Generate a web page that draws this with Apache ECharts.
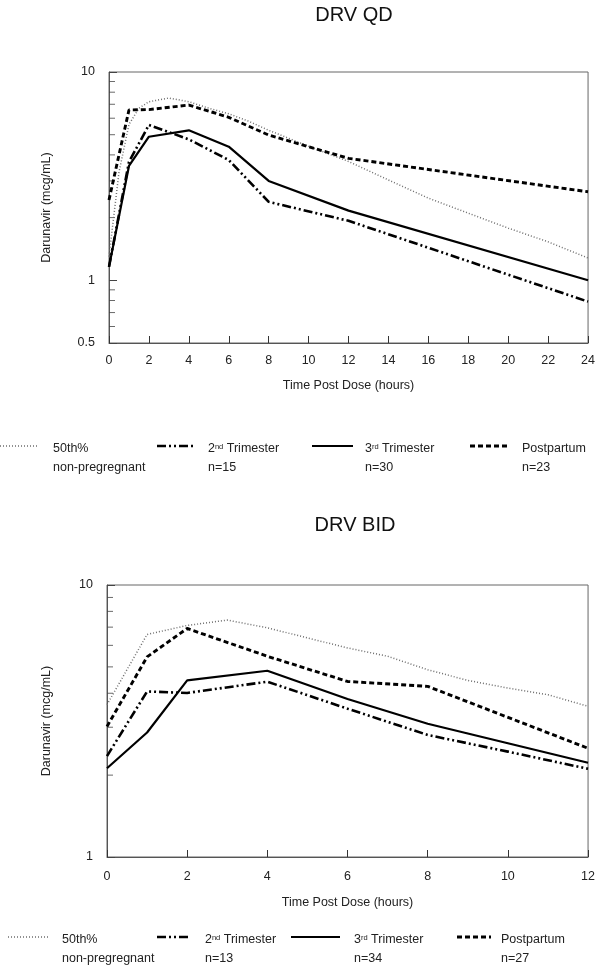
<!DOCTYPE html>
<html><head><meta charset="utf-8">
<script src="https://cdn.jsdelivr.net/npm/echarts@6/dist/echarts.min.js"></script>
<style>html,body{margin:0;padding:0;background:#fff}#c{width:598px;height:967px}</style>
</head><body><div id="c"></div>
<script>
// ---------- DATA ----------
// DRV QD (once daily), x = hours post dose, y = mcg/mL
const qdHoursNP = [0, 0.5, 1, 1.5, 2, 3, 4, 5, 6, 7, 8, 10, 12, 14, 16, 18, 20, 22, 24];
const qdNonPreg = [1.3, 3.3, 5.6, 6.7, 7.2, 7.5, 7.2, 6.7, 6.3, 5.8, 5.25, 4.4, 3.72, 3.03, 2.48, 2.1, 1.78, 1.53, 1.28];
const qdHours = [0, 1, 2, 4, 6, 8, 12, 24];
const qdTri2 = [1.16, 3.7, 5.57, 4.75, 3.78, 2.38, 1.93, 0.79];
const qdTri3 = [1.16, 3.54, 4.89, 5.25, 4.38, 3.0, 2.16, 1.0];
const qdPost = [2.43, 6.57, 6.6, 6.94, 6.06, 4.98, 3.85, 2.66];
// DRV BID (twice daily)
const bidHoursNP = [0, 1, 2, 3, 4, 5, 6, 7, 8, 9, 10, 11, 12];
const bidNonPreg = [3.63, 6.58, 7.1, 7.43, 6.96, 6.39, 5.87, 5.47, 4.88, 4.46, 4.18, 3.95, 3.58];
const bidHours = [0, 1, 2, 4, 6, 8, 10, 12];
const bidTri2 = [2.35, 4.06, 4.01, 4.41, 3.51, 2.81, 2.44, 2.11];
const bidTri3 = [2.12, 2.87, 4.46, 4.84, 3.81, 3.09, 2.62, 2.22];
const bidHoursPost = [0, 1, 2, 4, 6, 8, 12];
const bidPost = [3.02, 5.44, 6.92, 5.47, 4.42, 4.24, 2.51];
// axis ticks
const qdMinorTicks = [0.6, 0.7, 0.8, 0.9, 2, 3, 4, 5, 6, 7, 8, 9];
const bidMinorTicks = [2, 3, 4, 5, 6, 7, 8, 9];
const titles = ['DRV QD', 'DRV BID'];
const xName = 'Time Post Dose (hours)';
const yName = 'Darunavir (mcg/mL)';
const qdCounts = ['n=15', 'n=30', 'n=23'];
const bidCounts = ['n=13', 'n=34', 'n=27'];

// ---------- CHART ----------
const FONT = '"Liberation Sans", Arial, sans-serif';
const FS = 12.5;
const chart = echarts.init(document.getElementById('c'));
const zip = (xs, ys) => xs.map((x, i) => [x, ys[i]]);

const STY = {
  np:   {color: '#6e6e6e', width: 1.5, type: [1, 2]},
  t2:   {color: '#000', width: 2.6, type: [9, 3, 2, 3, 2, 3]},
  t3:   {color: '#000', width: 2.2, type: 'solid'},
  pp:   {color: '#000', width: 2.9, type: [5, 3]}
};

function xAx(g, max, labelMargin, nameGap) {
  return {
    type: 'value', gridIndex: g, min: 0, max: max, interval: 2,
    axisLine: {show: true, lineStyle: {color: '#555', width: 1}},
    axisTick: {show: true, inside: true, length: 7, lineStyle: {color: '#333', width: 1}},
    axisLabel: {color: '#222', fontSize: FS, fontFamily: FONT, margin: labelMargin},
    splitLine: {show: false},
    name: xName, nameLocation: 'middle', nameGap: nameGap,
    nameTextStyle: {color: '#222', fontSize: FS, fontFamily: FONT}
  };
}
function yAx(g, min, max, nameGap) {
  return {
    type: 'log', logBase: 10, gridIndex: g, min: min, max: max,
    axisLine: {show: true, lineStyle: {color: '#555', width: 1}},
    axisTick: {show: true, inside: true, length: 8, lineStyle: {color: '#444', width: 1}},
    axisLabel: {color: '#222', fontSize: FS, fontFamily: FONT, margin: 14, showMinLabel: true, showMaxLabel: true},
    splitLine: {show: false}, minorTick: {show: false},
    name: yName, nameLocation: 'middle', nameGap: nameGap, nameRotate: 90,
    nameTextStyle: {color: '#222', fontSize: FS, fontFamily: FONT}
  };
}
function line(name, g, data, sty) {
  return {
    type: 'line', name: name, xAxisIndex: g, yAxisIndex: g, data: data,
    showSymbol: false, symbol: 'none', silent: true, animation: false,
    lineStyle: {color: sty.color, width: sty.width, type: sty.type}
  };
}
function minor(g, ticks) {
  return {
    type: 'scatter', xAxisIndex: g, yAxisIndex: g, silent: true, animation: false,
    data: ticks.map(v => [0, v]), symbol: 'rect', symbolSize: [6, 1], symbolOffset: [3, 0],
    itemStyle: {color: '#444'}, z: 1
  };
}

// legend graphics
function legend(rowY, pos, counts) {
  const els = [];
  const lineY = rowY - 3;
  const keys = ['np', 't2', 't3', 'pp'];
  keys.forEach((k, i) => {
    const s = STY[k];
    els.push({type: 'line', shape: {x1: pos[i][0], y1: lineY, x2: pos[i][1], y2: lineY},
      style: {stroke: s.color, lineWidth: s.width, lineDash: s.type === 'solid' ? null : s.type}});
  });
  const base = {fill: '#222', fontSize: FS, fontFamily: FONT};
  const rich = {b: {fontSize: FS, fontFamily: FONT, fill: '#222', color: '#222'},
                s: {fontSize: 7.5, fontFamily: FONT, fill: '#222', color: '#222', verticalAlign: 'top', padding: [0, 0, 5, 0]}};
  const texts1 = ['{b|50th%}', '{b|2}{s|nd}{b| Trimester}', '{b|3}{s|rd}{b| Trimester}', '{b|Postpartum}'];
  const texts2 = ['non-pregregnant'].concat(counts);
  keys.forEach((k, i) => {
    els.push({type: 'text', x: pos[i][2], y: rowY, style: Object.assign({}, base, {text: texts1[i], rich: rich, verticalAlign: 'middle'})});
    els.push({type: 'text', x: pos[i][2], y: rowY + 19, style: Object.assign({}, base, {text: texts2[i], verticalAlign: 'middle'})});
  });
  return els;
}

const option = {
  animation: false,
  backgroundColor: '#fff',
  title: [
    {text: titles[0], left: 349, top: 0, textAlign: 'center', textStyle: {fontSize: 20, fontWeight: 'normal', color: '#111', fontFamily: FONT}},
    {text: titles[1], left: 350, top: 510, textAlign: 'center', textStyle: {fontSize: 20, fontWeight: 'normal', color: '#111', fontFamily: FONT}}
  ],
  grid: [
    {left: 109, top: 72, width: 481, height: 271, show: true, borderColor: '#666', borderWidth: 1, containLabel: false},
    {left: 107, top: 585, width: 483, height: 272, show: true, borderColor: '#666', borderWidth: 1, containLabel: false}
  ],
  xAxis: [xAx(0, 24, 11, 36), xAx(1, 12, 13, 39)],
  yAxis: [yAx(0, 0.5, 10, 56), yAx(1, 1, 10, 54)],
  series: [
    line('50th% non-pregnant', 0, zip(qdHoursNP, qdNonPreg), STY.np),
    line('2nd Trimester', 0, zip(qdHours, qdTri2), STY.t2),
    line('3rd Trimester', 0, zip(qdHours, qdTri3), STY.t3),
    line('Postpartum', 0, zip(qdHours, qdPost), STY.pp),
    minor(0, qdMinorTicks),
    line('50th% non-pregnant', 1, zip(bidHoursNP, bidNonPreg), STY.np),
    line('2nd Trimester', 1, zip(bidHours, bidTri2), STY.t2),
    line('3rd Trimester', 1, zip(bidHours, bidTri3), STY.t3),
    line('Postpartum', 1, zip(bidHoursPost, bidPost), STY.pp),
    minor(1, bidMinorTicks)
  ],
  graphic: legend(449, [[0, 38, 53], [157, 193, 208], [312, 353, 365], [470, 507, 522]], qdCounts)
    .concat(legend(940, [[8, 48, 62], [157, 191, 205], [291, 340, 354], [457, 491, 501]], bidCounts))
};
chart.setOption(option);
</script></body></html>
